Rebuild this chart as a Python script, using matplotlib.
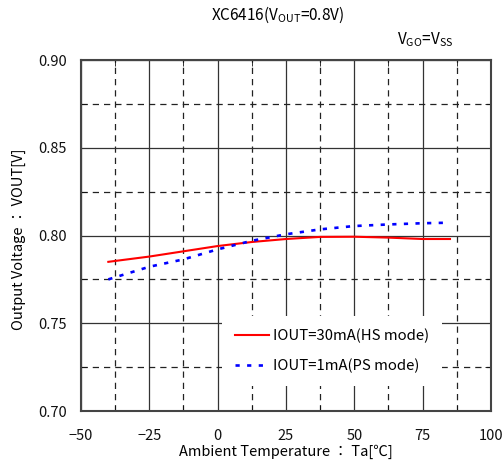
import matplotlib
matplotlib.use("Agg")
import matplotlib.pyplot as plt
from matplotlib.ticker import MultipleLocator

plt.rcParams['font.family'] = ['Noto Sans CJK JP', 'DejaVu Sans']
plt.rcParams['mathtext.fontset'] = 'custom'
plt.rcParams['mathtext.rm'] = 'Noto Sans CJK JP'

# data
tempHS = [-40, -25, -12.5, 0, 12.5, 25, 37.5, 50, 62.5, 75, 85]
voutHS = [0.785, 0.788, 0.791, 0.794, 0.7963, 0.798, 0.7992, 0.7993, 0.7988, 0.798, 0.798]
tempPS = [-40, -25, -12.5, 0, 12.5, 25, 37.5, 50, 62.5, 75, 85]
voutPS = [0.775, 0.7822, 0.7864, 0.7921, 0.797, 0.8007, 0.8035, 0.8054, 0.8063, 0.807, 0.8073]

xTicks = [-50, -25, 0, 25, 50, 75, 100]
yTicks = [0.70, 0.75, 0.80, 0.85, 0.90]

fig = plt.figure(figsize=(5.04, 4.63), dpi=100)
ax = fig.add_axes([0.1607, 0.1123, 0.8135, 0.7581])

ax.set_xlim(-50, 100)
ax.set_ylim(0.70, 0.90)
ax.set_xticks(xTicks)
ax.set_yticks(yTicks)
ax.set_yticklabels(["%.2f" % v for v in yTicks])
ax.xaxis.set_minor_locator(MultipleLocator(12.5))
ax.yaxis.set_minor_locator(MultipleLocator(0.025))

ax.grid(which='major', color='#333333', linewidth=0.9, linestyle='-')
ax.grid(which='minor', color='#222222', linewidth=0.9, linestyle=(0, (5, 4)))
ax.set_axisbelow(True)

ax.tick_params(which='both', direction='in', length=0, labelsize=10.5, colors='#111111')
ax.tick_params(which='minor', length=4, top=True, bottom=True, left=True, right=True)
ax.tick_params(axis='x', pad=13)
ax.tick_params(axis='y', pad=10)
for s in ax.spines.values():
    s.set_color('#444444')
    s.set_linewidth(1.5)

ax.plot(tempHS, voutHS, '-', color='#ff0000', linewidth=1.5, label='IOUT=30mA(HS mode)')
ax.plot(tempPS, voutPS, color='#0000ff', linewidth=1.9, linestyle=(0, (1.6, 2.8)), label='IOUT=1mA(PS mode)')

leg = ax.legend(loc='upper left', bbox_to_anchor=(0.344, 0.272), frameon=True, fontsize=10.7,
                handlelength=2.25, handletextpad=0.25, labelspacing=1.0, borderpad=0.9,
                borderaxespad=0)
leg.get_frame().set_facecolor('white')
leg.get_frame().set_edgecolor('none')
leg.get_frame().set_alpha(1)
leg.get_frame().set_boxstyle('square', pad=0)

ax.set_xlabel("Ambient Temperature ： Ta[℃]", fontsize=10.5, va='center')
ax.xaxis.set_label_coords(0.5, -0.117)
ax.set_ylabel("Output Voltage ： VOUT[V]", fontsize=10.5, va='center')
ax.yaxis.set_label_coords(-0.151, 0.49)

fig.text(0.55, 0.968, r"XC6416(V$_{\mathrm{OUT}}$=0.8V)", ha='center', va='center', fontsize=11)
fig.text(0.843, 0.914, r"V$_{\mathrm{GO}}$=V$_{\mathrm{SS}}$", ha='center', va='center', fontsize=11)

fig.savefig("out.png", dpi=100)
